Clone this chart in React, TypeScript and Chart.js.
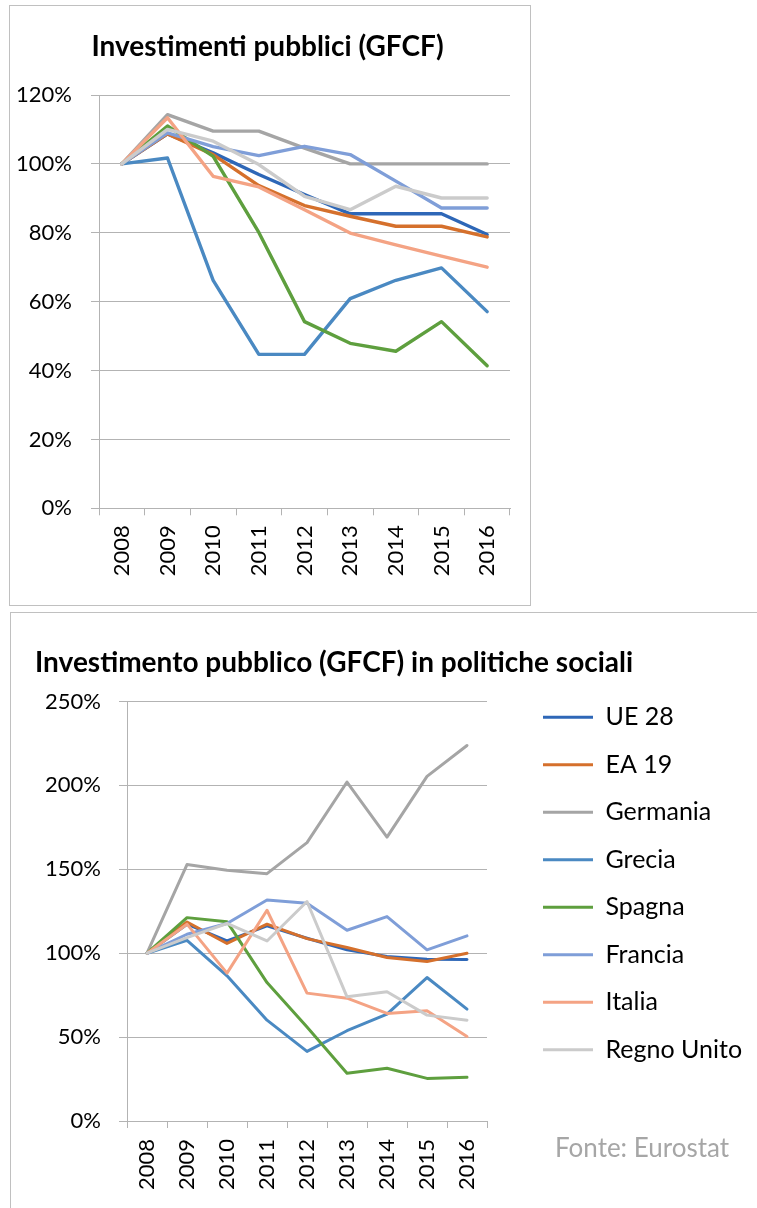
import { useEffect, useRef } from 'react';
import { Chart, registerables } from 'chart.js';

Chart.register(...registerables);

const FONT = 'Lato, "Open Sans", sans-serif';
const GRID = '#B3B3B3';
const TEXT = '#000000';

const years = ['2008', '2009', '2010', '2011', '2012', '2013', '2014', '2015', '2016'];
const seriesNames = ['UE 28', 'EA 19', 'Germania', 'Grecia', 'Spagna', 'Francia', 'Italia', 'Regno Unito'];
const seriesColors = ['#2E67B7', '#D5702C', '#A5A5A5', '#4A89C2', '#5E9F3E', '#7F9ED8', '#F4A384', '#CBCBCB'];

// Investimenti pubblici (GFCF), 2008 = 100%
const ue28Tot = [100, 108.7, 103.2, 96.9, 91.1, 85.5, 85.5, 85.5, 79.5];
const ea19Tot = [100, 108.7, 102.7, 93.7, 87.9, 84.8, 81.9, 81.9, 78.8];
const germaniaTot = [100, 114.3, 109.5, 109.5, 104.6, 100, 100, 100, 100];
const greciaTot = [100, 101.7, 66.2, 44.7, 44.7, 60.9, 66.2, 69.8, 57.1];
const spagnaTot = [100, 111, 102.2, 80.1, 54.2, 47.9, 45.6, 54.2, 41.4];
const franciaTot = [100, 109, 105, 102.4, 105.1, 102.7, 95, 87.2, 87.2];
const italiaTot = [100, 113.4, 96.4, 93.3, 86.7, 79.9, 76.5, 73.2, 70];
const regnoTot = [100, 110, 106.6, 99.8, 90.6, 86.7, 93.5, 90.1, 90.1];

// Investimento pubblico (GFCF) in politiche sociali, 2008 = 100%
const ue28Soc = [100, 117.3, 107.3, 116.3, 108.9, 102, 98, 96.4, 96.2];
const ea19Soc = [100, 118.6, 105.8, 117.3, 108.7, 103.4, 97.4, 95, 100];
const germaniaSoc = [100, 152.8, 149.4, 147.4, 165.9, 202, 169.2, 205.4, 223.8];
const greciaSoc = [100, 107.7, 86.5, 60.1, 41.5, 53.8, 63.7, 85.5, 66.7];
const spagnaSoc = [100, 121.2, 118.8, 82.5, 56, 28.4, 31.4, 25.4, 26];
const franciaSoc = [100, 111.3, 117.7, 131.7, 129.8, 113.7, 121.8, 102, 110.3];
const italiaSoc = [100, 117.3, 88.1, 125.6, 76.2, 73.2, 64.1, 65.7, 50.4];
const regnoSoc = [100, 109.3, 117.7, 107.3, 130.8, 74, 77, 63.1, 60.1];

const topTicksMax = 120;
const topTicksStep = 20;
const bottomTicksMax = 250;
const bottomTicksStep = 50;

const TITLE_SIZE = 28;
const LEGEND_SIZE = 25;

function makeDatasets(values: number[][], width: number) {
  return values.map((data, i) => ({
    label: seriesNames[i],
    data,
    borderColor: seriesColors[i],
    backgroundColor: seriesColors[i],
    borderWidth: width,
    pointRadius: 0,
    pointHoverRadius: 0,
    tension: 0,
    fill: false,
    borderJoinStyle: 'round' as const,
    borderCapStyle: 'round' as const,
    order: values.length - i,
  }));
}

const tickFont = { family: FONT, size: 22 };

function xScale(padding: number, height: number) {
  return {
    type: 'category' as const,
    offset: true,
    grid: { display: true, offset: true, drawOnChartArea: false, drawTicks: true, tickLength: 7, color: GRID, lineWidth: 1 },
    border: { display: true, color: GRID, width: 1 },
    ticks: { minRotation: 90, maxRotation: 90, autoSkip: false, padding, font: tickFont, color: TEXT },
    afterFit: (s: any) => { s.height = height; },
  };
}

function yScale(max: number, step: number, padding: number, width: number) {
  return {
    type: 'linear' as const,
    min: 0,
    max,
    grid: { color: GRID, tickLength: 8, lineWidth: 1 },
    border: { display: true, color: GRID, width: 1 },
    ticks: { stepSize: step, padding, font: tickFont, color: TEXT, callback: (v: any) => v + '%' },
    afterFit: (s: any) => { s.width = width; },
  };
}

function spacer(width: number) {
  return {
    type: 'linear' as const,
    position: 'right' as const,
    display: true,
    ticks: { display: false },
    grid: { display: false },
    border: { display: false },
    afterFit: (s: any) => { s.width = width; },
  };
}

function titleOpts(text: string, align: string, top: number, bottom: number) {
  return {
    display: true,
    text,
    align,
    color: TEXT,
    font: { family: FONT, size: TITLE_SIZE, weight: 'bold', lineHeight: 1.2 },
    padding: { top, bottom },
  };
}

function buildTopConfig(): any {
  const lh = TITLE_SIZE * 1.2;
  const tTop = 41 - lh / 2;
  const tBottom = 89 - tTop - lh;
  return {
    type: 'line',
    data: {
      labels: years,
      datasets: makeDatasets([ue28Tot, ea19Tot, germaniaTot, greciaTot, spagnaTot, franciaTot, italiaTot, regnoTot], 3.4),
    },
    options: {
      responsive: false,
      animation: false,
      events: [],
      layout: { padding: { left: 4, right: 9, top: 0, bottom: 0 } },
      plugins: {
        legend: { display: false },
        tooltip: { enabled: false },
        title: titleOpts('Investimenti pubblici (GFCF)', 'center', tTop, tBottom),
      },
      scales: {
        x: xScale(10, 96.7),
        y: yScale(topTicksMax, topTicksStep, 19, 85),
        yr: spacer(11),
      },
    },
  };
}

function buildBottomConfig(): any {
  const lh = TITLE_SIZE * 1.2;
  const tTop = 91.5 - lh / 2;
  const tBottom = 130.5 - tTop - lh;
  const legendPad = 47.5 - LEGEND_SIZE;
  const boxW = 50;
  const c = document.createElement('canvas').getContext('2d') as CanvasRenderingContext2D;
  c.font = LEGEND_SIZE + 'px ' + FONT;
  const tw = Math.max(...seriesNames.map((n) => c.measureText(n).width));
  const legendW = legendPad + boxW + LEGEND_SIZE / 2 + tw + 10;
  const spacerW = 532 - legendPad - 476;
  const padRight = Math.max(0, 746 - 24 - 92 - 360 - spacerW - legendW);
  return {
    type: 'line',
    data: {
      labels: years,
      datasets: makeDatasets([ue28Soc, ea19Soc, germaniaSoc, greciaSoc, spagnaSoc, franciaSoc, italiaSoc, regnoSoc], 3),
    },
    options: {
      responsive: false,
      animation: false,
      events: [],
      layout: { padding: { left: 24, right: padRight, top: 0, bottom: 12 } },
      plugins: {
        tooltip: { enabled: false },
        legend: {
          display: true,
          position: 'right',
          align: 'center',
          fullSize: true,
          maxWidth: 1000,
          labels: {
            usePointStyle: true,
            pointStyle: 'line',
            pointStyleWidth: boxW,
            padding: legendPad,
            color: TEXT,
            font: { family: FONT, size: LEGEND_SIZE },
            sort: (a: any, b: any) => a.datasetIndex - b.datasetIndex,
          },
        },
        title: titleOpts('Investimento pubblico (GFCF) in politiche sociali', 'start', tTop, tBottom),
      },
      scales: {
        x: xScale(11, 75),
        y: yScale(bottomTicksMax, bottomTicksStep, 18, 92),
        yr: spacer(spacerW),
      },
    },
  };
}

function ChartCanvas({ build, left, top, width, height }: any) {
  const ref = useRef<HTMLCanvasElement>(null);
  useEffect(() => {
    document.documentElement.style.overflow = 'hidden';
    const chart = new Chart(ref.current as HTMLCanvasElement, build());
    return () => chart.destroy();
  }, []);
  return (
    <canvas
      ref={ref}
      width={width}
      height={height}
      style={{ position: 'absolute', left, top, width, height, display: 'block' }}
    />
  );
}

export default function App() {
  return (
    <div>
      <div
        style={{
          position: 'absolute', left: 9, top: 5, width: 522, height: 601,
          border: '1px solid #C0C0C0', boxSizing: 'border-box', background: '#fff',
        }}
      />
      <div
        style={{
          position: 'absolute', left: 10, top: 612, width: 747, height: 596,
          borderLeft: '1px solid #C0C0C0', borderTop: '1px solid #C0C0C0', boxSizing: 'border-box', background: '#fff',
        }}
      />
      <ChartCanvas build={buildTopConfig} left={10} top={6} width={520} height={599} />
      <ChartCanvas build={buildBottomConfig} left={11} top={570.5} width={746} height={637.5} />
      <div
        style={{
          position: 'absolute', left: 555, top: 1132, fontFamily: FONT, fontSize: 26,
          lineHeight: '30px', color: '#A6A6A6', whiteSpace: 'nowrap',
        }}
      >
        Fonte: Eurostat
      </div>
    </div>
  );
}
